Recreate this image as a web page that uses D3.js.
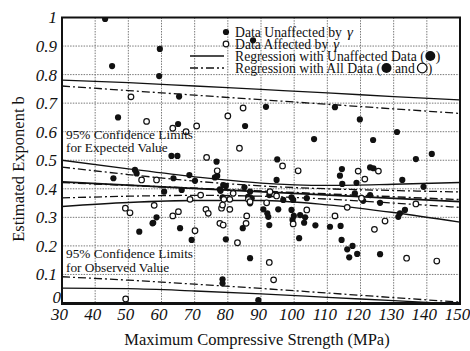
<!DOCTYPE html>
<html><head><meta charset="utf-8">
<script src="https://cdn.jsdelivr.net/npm/d3@7/dist/d3.min.js"></script>
<style>body{margin:0;background:#fff}</style>
</head><body><svg id="c" width="470" height="351"></svg>
<script>
// ---- data ----
const xTicks = [30,40,50,60,70,80,90,100,110,120,130,140,150];
const yTicks = [0,0.1,0.2,0.3,0.4,0.5,0.6,0.7,0.8,0.9,1];
const yTickLabels = ["0","0.1","0.2","0.3","0.4","0.5","0.6","0.7","0.8","0.9","1"];

// Data unaffected by gamma (filled)
const unaffected = [
[43,0.995],[45.1,0.83],[59.5,0.89],[59.3,0.795],[46.9,0.65],[65.3,0.723],[87.6,0.92],[91.5,0.687],
[112.3,0.686],[119.8,0.643],[131,0.599],[106,0.574],[123.8,0.571],[136.7,0.504],[141.5,0.522],
[114.4,0.469],[113.8,0.446],[122.9,0.475],[123.9,0.472],[114.5,0.417],[118.8,0.421],[132.6,0.431],
[139,0.407],[118.3,0.384],[122.9,0.378],[120.8,0.358],[125.9,0.351],[131.9,0.314],[131.4,0.302],
[133.4,0.326],[106.4,0.272],[110.8,0.267],[114,0.27],[114.3,0.221],[116,0.188],[117.6,0.2],
[116.6,0.16],[119,0.172],[125.9,0.171],[65.6,0.262],[69.1,0.221],[79.4,0.223],[84.5,0.262],
[92.5,0.273],[103,0.281],[101.5,0.227],[86.7,0.157],[78.4,0.083],[78.4,0.069],[89.2,0.01],
[53.3,0.25],[57.3,0.279],[45.5,0.437],[52,0.466],[52.5,0.454],[57.5,0.281],[58.5,0.3],
[85.2,0.62],[65,0.627],[63,0.515],[64.8,0.515],[76.6,0.495],[94.9,0.503],[94.7,0.431],[68.4,0.448],
[63.6,0.437],[70.1,0.428],[60.8,0.39],[66.1,0.396],[77.6,0.398],[79.4,0.41],[85,0.405],[86.7,0.39],
[78.4,0.37],[86.7,0.349],[90.7,0.328],[95.2,0.328],[99.7,0.361],[103.8,0.367],[91.9,0.314],
[92.2,0.302],[99.2,0.326],[99.9,0.305],[103.3,0.3],[76.1,0.44],[76.8,0.445],[78.6,0.413],
[77.8,0.393],[86.1,0.372],[87.2,0.367],[92.5,0.378],[96.7,0.361],[99.2,0.37],[99.5,0.291],[101.8,0.308]
];
// Data affected by gamma (open)
const affected = [
[50.8,0.722],[55.5,0.636],[84.6,0.683],[80,0.655],[119.3,0.462],[121.3,0.434],[125.4,0.462],
[120.3,0.367],[136.7,0.347],[116,0.335],[112.3,0.305],[127.4,0.287],[124.2,0.258],[133.9,0.157],
[143,0.147],[70.1,0.253],[77.6,0.279],[78.6,0.273],[82.9,0.211],[85.5,0.279],[99.7,0.277],
[92.5,0.142],[93.8,0.081],[49.2,0.014],[54,0.431],[58.5,0.431],[49.1,0.332],[50.5,0.316],[57.8,0.342],
[70.6,0.62],[63.4,0.612],[67.4,0.6],[83.5,0.542],[73.6,0.51],[76.8,0.463],[96.5,0.48],[101.2,0.463],
[71.8,0.378],[80.6,0.363],[86.2,0.363],[68.6,0.363],[91.7,0.351],[94.7,0.375],[73.4,0.328],
[74.1,0.314],[78.1,0.332],[80.6,0.328],[63.4,0.305],[65.1,0.32],[85.7,0.305],[103.8,0.326],
[81.6,0.384],[86.7,0.355],[78.8,0.363],[78.4,0.343],[92.7,0.39]
];

// regression lines (endpoints)
const regX = [30,150];
const regUnaffected = [0.424,0.355];
const regAll = [0.422,0.362];
// confidence limits read at these strengths
const bandX = [30,50,70,90,110,130,150];
const expUnaffUpper = [0.500,0.470,0.442,0.420,0.412,0.416,0.422];
const expUnaffLower = [0.338,0.352,0.359,0.359,0.344,0.317,0.283];
const expAllUpper   = [0.476,0.450,0.427,0.410,0.400,0.394,0.389];
const expAllLower   = [0.368,0.374,0.377,0.374,0.364,0.350,0.335];
const obsUnaffUpper = [0.781,0.772,0.760,0.748,0.736,0.723,0.711];
const obsUnaffLower = [0.052,0.050,0.042,0.032,0.020,0.008,-0.004];
const obsAllUpper   = [0.760,0.744,0.728,0.712,0.696,0.680,0.664];
const obsAllLower   = [0.092,0.080,0.066,0.051,0.035,0.019,0.003];

// ---- drawing ----
const svg = d3.select("#c");
const serif = "'Liberation Serif','Times New Roman',serif";
const x = d3.scaleLinear().domain([30,150]).range([62,460]);
const y = d3.scaleLinear().domain([0,1]).range([303,17.5]);

svg.append("defs").append("clipPath").attr("id","clip")
  .append("rect").attr("x",62).attr("y",17.5).attr("width",398).attr("height",285.5);

// grid
const grid = svg.append("g").attr("stroke","#7a7a7a").attr("stroke-width",1).attr("stroke-dasharray","1.5,1.2");
grid.selectAll(".gx").data(xTicks.slice(1,-1)).join("line")
  .attr("x1",d=>x(d)).attr("x2",d=>x(d)).attr("y1",y(1)).attr("y2",y(0));
grid.selectAll(".gy").data(yTicks.slice(1,-1)).join("line")
  .attr("x1",x(30)).attr("x2",x(150)).attr("y1",d=>y(d)).attr("y2",d=>y(d));

// axes (ticks hidden, labels only)
const xAxis = svg.append("g").attr("transform",`translate(0,${y(0)})`)
  .call(d3.axisBottom(x).tickValues(xTicks).tickSize(0).tickPadding(0).tickFormat(d3.format("d")));
xAxis.select(".domain").remove();
xAxis.attr("font-family",serif);
xAxis.selectAll("text").attr("dy",0).attr("y",17).attr("dx",-3)
  .style("font-family",serif).style("font-style","italic").style("font-size","17px").attr("fill","#111");

const yAxis = svg.append("g").attr("transform",`translate(${x(30)},0)`)
  .call(d3.axisLeft(y).tickValues(yTicks).tickSize(0).tickPadding(5).tickFormat((d,i)=>yTickLabels[i]));
yAxis.select(".domain").remove();
yAxis.attr("font-family",serif);
yAxis.selectAll("text").style("font-family",serif).style("font-style","italic").style("font-size","17px").attr("fill","#111");
yAxis.selectAll(".tick").filter(d=>d===0).select("text").attr("x",-1).attr("dy","-0.05em");

// lines
const plot = svg.append("g").attr("clip-path","url(#clip)");
const line = d3.line().x(d=>x(d[0])).y(d=>y(d[1])).curve(d3.curveMonotoneX);
const dashDot = "8,3,2,3";
function series(xs, ys, dashed, w){
  plot.append("path").datum(xs.map((v,i)=>[v,ys[i]])).attr("d",line)
    .attr("fill","none").attr("stroke","#111").attr("stroke-width",w||1.3)
    .attr("stroke-dasharray",dashed?dashDot:null);
}
series(bandX, obsUnaffUpper, false);
series(bandX, obsUnaffLower, false);
series(bandX, obsAllUpper, true);
series(bandX, obsAllLower, true);
series(bandX, expUnaffUpper, false);
series(bandX, expUnaffLower, false);
series(bandX, expAllUpper, true);
series(bandX, expAllLower, true);
series(regX, regUnaffected, false, 1.8);
series(regX, regAll, true, 1.5);

// points
plot.selectAll(".u").data(unaffected).join("circle")
  .attr("cx",d=>x(d[0])).attr("cy",d=>y(d[1])).attr("r",3.1).attr("fill","#111");
plot.selectAll(".a").data(affected).join("circle")
  .attr("cx",d=>x(d[0])).attr("cy",d=>y(d[1])).attr("r",2.8)
  .attr("fill","#fff").attr("stroke","#111").attr("stroke-width",1.2);

// frame
svg.append("rect").attr("x",x(30)).attr("y",y(1)).attr("width",x(150)-x(30)).attr("height",y(0)-y(1))
  .attr("fill","none").attr("stroke","#111").attr("stroke-width",2);
svg.append("line").attr("x1",x(30)-1).attr("x2",x(150)+1).attr("y1",y(0)+0.5).attr("y2",y(0)+0.5)
  .attr("stroke","#111").attr("stroke-width",3);

// annotations
function txt(t, tx, ty, size){
  return svg.append("text").attr("x",tx).attr("y",ty).attr("fill","#111")
    .style("font-family",serif).style("font-size",size+"px").text(t);
}
txt("95% Confidence Limits", 66, 139, 13.3);
txt("for Expected Value", 66, 152, 13.3);
txt("95% Confidence Limits", 66, 258, 13.3);
txt("for Observed Value", 66, 271.5, 13.3);

// legend
const lg = svg.append("g");
const lx0 = 190, lx1 = 224, mx = 226, tx = 235, rows = [32,44,56,68];
lg.append("circle").attr("cx",mx).attr("cy",rows[0]).attr("r",3.1).attr("fill","#111");
lg.append("circle").attr("cx",mx).attr("cy",rows[1]).attr("r",2.8).attr("fill","#fff").attr("stroke","#111").attr("stroke-width",1.2);
lg.append("line").attr("x1",lx0).attr("x2",lx1).attr("y1",rows[2]).attr("y2",rows[2]).attr("stroke","#111").attr("stroke-width",1.3);
lg.append("line").attr("x1",lx0).attr("x2",lx1).attr("y1",rows[3]).attr("y2",rows[3]).attr("stroke","#111").attr("stroke-width",1.3).attr("stroke-dasharray",dashDot);

const LS = 13.7;
function segText(str, xx, row, italic){
  const t = lg.append("text").attr("x",xx).attr("y",rows[row]+4.5).attr("fill","#111")
    .style("font-family",serif).style("font-size",(italic?15:LS)+"px").text(str);
  if(italic) t.style("font-style","italic");
  return xx + t.node().getComputedTextLength();
}
let p = segText("Data Unaffected by", tx, 0);
segText("γ", p+5, 0, true);
p = segText("Data Affected by", tx, 1);
segText("γ", p+5, 1, true);
p = segText("Regression with Unaffected Data (", tx, 2);
lg.append("circle").attr("cx",p+5.5).attr("cy",rows[2]).attr("r",5).attr("fill","#111");
segText(")", p+11, 2);
p = segText("Regression with All Data (", tx, 3);
lg.append("circle").attr("cx",p+5.5).attr("cy",rows[3]).attr("r",5).attr("fill","#111");
p = segText("and", p+14, 3);
lg.append("circle").attr("cx",p+7.5).attr("cy",rows[3]).attr("r",4.8).attr("fill","#fff").attr("stroke","#111").attr("stroke-width",1.3);
segText(")", p+13, 3);

// axis titles
svg.append("text").attr("x",257).attr("y",345).attr("text-anchor","middle").attr("fill","#111")
  .style("font-family",serif).style("font-size","16.5px").text("Maximum Compressive Strength (MPa)");
svg.append("text").attr("transform","translate(24,169) rotate(-90)").attr("text-anchor","middle").attr("fill","#111")
  .style("font-family",serif).style("font-size","16.5px").text("Estimated Exponent b");
</script></body></html>
